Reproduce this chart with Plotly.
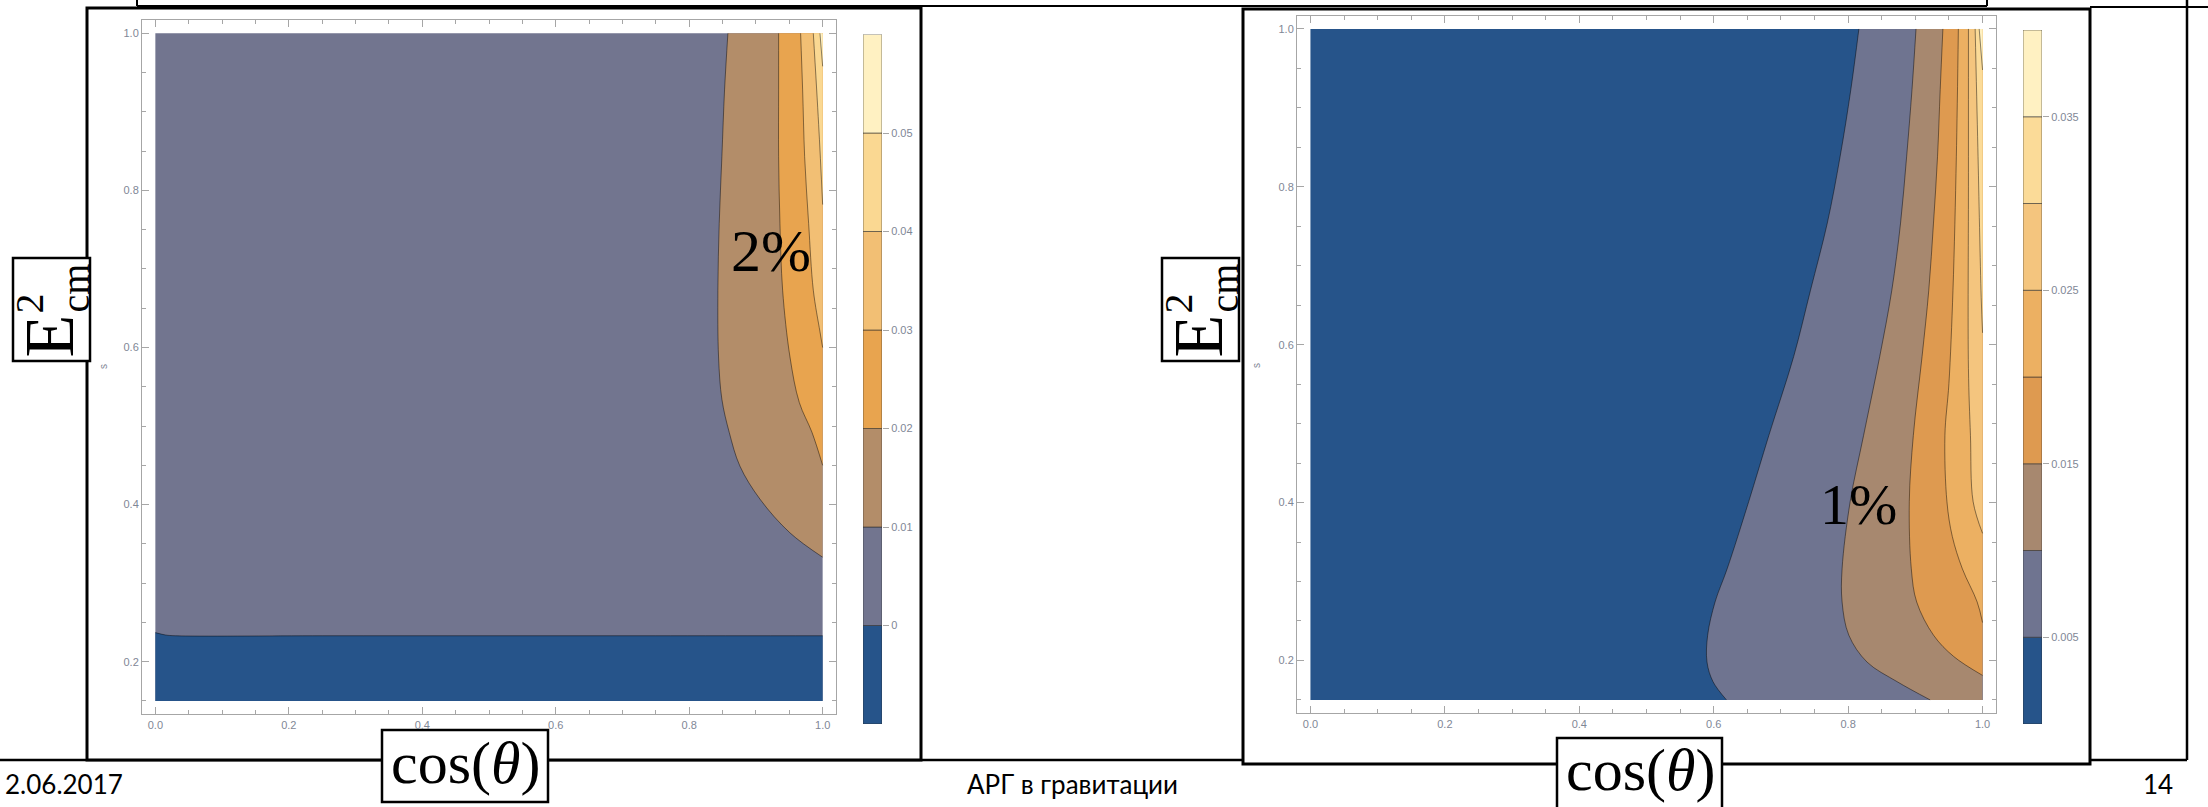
import plotly.graph_objects as go

W, H = 2208, 807

# ---------------- data ----------------
# Domain of both panels
C_MIN, C_MAX = 0.0, 1.0
S_MIN, S_MAX = 0.15, 1.0

# Left panel: contour levels, band colours and colour-bar ticks
L_LEVELS = [-0.01, 0.0, 0.01, 0.02, 0.03, 0.04, 0.05, 0.06]
L_COLORS = ['#26548A', '#72758F', '#B38D69', '#E8A44F', '#F2BF74', '#FAD892', '#FFF1C2']
L_TICKVALS = [0.0, 0.01, 0.02, 0.03, 0.04, 0.05]
L_TICKTEXT = ['0', '0.01', '0.02', '0.03', '0.04', '0.05']

# Left panel contour lines (cos θ, s)
L_C000_X = [0.0, 0.015, 0.03, 0.25, 0.5, 0.75, 1.0]
L_C000_Y = [0.237, 0.234, 0.233, 0.233, 0.233, 0.233, 0.233]
L_C010_X = [0.858, 0.853, 0.849, 0.845, 0.843, 0.844, 0.849, 0.860, 0.876, 0.906, 0.951, 1.0]
L_C010_Y = [1.0, 0.928, 0.843, 0.758, 0.673, 0.588, 0.534, 0.492, 0.449, 0.407, 0.364, 0.333]
L_C020_X = [0.934, 0.934, 0.934, 0.936, 0.940, 0.951, 0.965, 0.984, 1.0]
L_C020_Y = [1.0, 0.928, 0.843, 0.758, 0.673, 0.588, 0.530, 0.492, 0.450]
L_C030_X = [0.967, 0.970, 0.973, 0.979, 0.986, 0.996, 1.0]
L_C030_Y = [1.0, 0.928, 0.843, 0.758, 0.673, 0.620, 0.600]
L_C040_X = [0.986, 0.994, 1.0]
L_C040_Y = [1.0, 0.884, 0.782]
L_C050_X = [0.996, 1.0]
L_C050_Y = [1.0, 0.958]

# Right panel: contour levels, band colours and colour-bar ticks
R_LEVELS = [0.0, 0.005, 0.01, 0.015, 0.02, 0.025, 0.03, 0.035, 0.04]
R_COLORS = ['#26548A', '#6F7490', '#A7886F', '#DE9A50', '#ECB062', '#F4C57E', '#FBDB98', '#FFF1C2']
R_TICKVALS = [0.005, 0.015, 0.025, 0.035]
R_TICKTEXT = ['0.005', '0.015', '0.025', '0.035']

# Right panel contour lines (cos θ, s)
R_C005_X = [0.816, 0.804, 0.788, 0.769, 0.744, 0.719, 0.682, 0.652, 0.620, 0.602, 0.591, 0.590, 0.599, 0.619]
R_C005_Y = [1.0, 0.923, 0.838, 0.754, 0.669, 0.585, 0.485, 0.401, 0.316, 0.274, 0.232, 0.198, 0.173, 0.150]
R_C010_X = [0.901, 0.895, 0.887, 0.878, 0.865, 0.847, 0.823, 0.803, 0.791, 0.791, 0.801, 0.828, 0.873, 0.922]
R_C010_Y = [1.0, 0.923, 0.838, 0.754, 0.669, 0.585, 0.485, 0.401, 0.316, 0.274, 0.232, 0.198, 0.173, 0.150]
R_C015_X = [0.941, 0.937, 0.933, 0.927, 0.920, 0.910, 0.897, 0.891, 0.894, 0.902, 0.927, 0.957, 1.0]
R_C015_Y = [1.0, 0.923, 0.838, 0.754, 0.669, 0.585, 0.485, 0.401, 0.316, 0.274, 0.232, 0.205, 0.181]
R_C020_X = [0.964, 0.961, 0.956, 0.950, 0.944, 0.947, 0.955, 0.970, 0.992, 1.0]
R_C020_Y = [1.0, 0.838, 0.669, 0.551, 0.485, 0.401, 0.357, 0.316, 0.274, 0.248]
R_C025_X = [0.979, 0.979, 0.979, 0.982, 0.986, 1.0]
R_C025_Y = [1.0, 0.800, 0.570, 0.485, 0.401, 0.361]
R_C030_X = [0.989, 0.993, 0.998, 1.0]
R_C030_Y = [1.0, 0.850, 0.660, 0.615]
R_C035_X = [0.995, 1.0]
R_C035_Y = [1.0, 0.948]

AXIS_TICKS = [0.0, 0.2, 0.4, 0.6, 0.8, 1.0]

# ---------------- helpers ----------------
def px(x):
    return x / W


def py(y):
    return 1 - y / H


LINE_COL = 'rgba(0,0,0,0.45)'
TICK_COL = '#a6a6a6'
LABEL_COL = '#7f8796'

fig = go.Figure()


def add_background(xa, ya, color):
    fig.add_trace(go.Scatter(
        x=[C_MIN, C_MAX, C_MAX, C_MIN, C_MIN], y=[S_MIN, S_MIN, S_MAX, S_MAX, S_MIN],
        mode='lines', fill='toself', fillcolor=color, line=dict(width=0),
        hoverinfo='skip', xaxis=xa, yaxis=ya))


def add_band(xa, ya, cx, cy, color, anchor_x, anchor_y):
    # invisible edge of the domain that the band is closed against
    fig.add_trace(go.Scatter(
        x=anchor_x, y=anchor_y, mode='lines', line=dict(width=0, color='rgba(0,0,0,0)'),
        hoverinfo='skip', xaxis=xa, yaxis=ya))
    fig.add_trace(go.Scatter(
        x=cx, y=cy, mode='lines', fill='tonextx', fillcolor=color,
        line=dict(color=LINE_COL, width=1, shape='spline', smoothing=1),
        hoverinfo='skip', xaxis=xa, yaxis=ya))


def right_band(xa, ya, cx, cy, color):
    add_band(xa, ya, cx, cy, color, [C_MAX, C_MAX], [S_MAX, cy[-1]])


# ---------------- left panel ----------------
add_background('x', 'y', L_COLORS[1])
add_band('x', 'y', L_C000_X, L_C000_Y, L_COLORS[0], [C_MIN, C_MAX], [S_MIN, S_MIN])
right_band('x', 'y', L_C010_X, L_C010_Y, L_COLORS[2])
right_band('x', 'y', L_C020_X, L_C020_Y, L_COLORS[3])
right_band('x', 'y', L_C030_X, L_C030_Y, L_COLORS[4])
right_band('x', 'y', L_C040_X, L_C040_Y, L_COLORS[5])
right_band('x', 'y', L_C050_X, L_C050_Y, L_COLORS[6])

# ---------------- right panel ----------------
add_background('x3', 'y3', R_COLORS[0])
right_band('x3', 'y3', R_C005_X, R_C005_Y, R_COLORS[1])
right_band('x3', 'y3', R_C010_X, R_C010_Y, R_COLORS[2])
right_band('x3', 'y3', R_C015_X, R_C015_Y, R_COLORS[3])
right_band('x3', 'y3', R_C020_X, R_C020_Y, R_COLORS[4])
right_band('x3', 'y3', R_C025_X, R_C025_Y, R_COLORS[5])
right_band('x3', 'y3', R_C030_X, R_C030_Y, R_COLORS[6])
right_band('x3', 'y3', R_C035_X, R_C035_Y, R_COLORS[7])


# ---------------- colour bars ----------------
def add_colorbar(levels, colors, xa, ya):
    lows = levels[:-1]
    heights = [hi - lo for lo, hi in zip(levels[:-1], levels[1:])]
    fig.add_trace(go.Bar(
        x=[0.5] * len(lows), y=heights, base=lows, width=1,
        marker=dict(color=colors, line=dict(color='rgba(40,40,40,0.55)', width=1)),
        hoverinfo='skip', xaxis=xa, yaxis=ya))


add_colorbar(L_LEVELS, L_COLORS, 'x2', 'y2')
add_colorbar(R_LEVELS, R_COLORS, 'x4', 'y4')

# ---------------- axes ----------------
tickfont = dict(family='Liberation Sans', size=11, color=LABEL_COL)


def frame_axis(domain, rng, anchor, is_x):
    ax = dict(
        domain=domain, range=rng, anchor=anchor,
        showline=True, linecolor=TICK_COL, linewidth=1, mirror='allticks',
        ticks='inside', ticklen=7, tickwidth=1, tickcolor=TICK_COL,
        tickvals=AXIS_TICKS if is_x else AXIS_TICKS[1:], tickformat='.1f',
        minor=dict(dtick=0.05, tick0=0, ticks='inside', ticklen=4, tickwidth=1,
                   tickcolor=TICK_COL, showgrid=False),
        showgrid=False, zeroline=False, tickfont=tickfont, fixedrange=True)
    return ax


def bar_axes(xdom, ydom, rng, xanchor, vals, text):
    xa = dict(domain=xdom, range=[0, 1], visible=False, fixedrange=True)
    ya = dict(domain=ydom, range=rng, anchor=xanchor, side='right',
              tickvals=vals, ticktext=text, ticks='outside', ticklen=6,
              tickwidth=1, tickcolor=TICK_COL, showline=False, showgrid=False,
              zeroline=False, tickfont=tickfont, fixedrange=True)
    return xa, ya


X_RANGE = [-0.02, 1.02]
Y_RANGE = [0.133, 1.017]

xa2, ya2 = bar_axes([px(863), px(882)], [py(724), py(34.5)], [L_LEVELS[0], L_LEVELS[-1]],
                    'x2', L_TICKVALS, L_TICKTEXT)
xa4, ya4 = bar_axes([px(2023), px(2042)], [py(724), py(30)], [R_LEVELS[0], R_LEVELS[-1]],
                    'x4', R_TICKVALS, R_TICKTEXT)


# ---------------- slide decoration ----------------
def rect(x0, y0, x1, y1, lw=3):
    return dict(type='rect', xref='paper', yref='paper', layer='below',
                x0=px(x0), x1=px(x1), y0=py(y1), y1=py(y0),
                line=dict(color='black', width=lw), fillcolor='white')


def seg(x0, y0, x1, y1, lw=2.5):
    return dict(type='line', xref='paper', yref='paper', layer='below',
                x0=px(x0), x1=px(x1), y0=py(y0), y1=py(y1),
                line=dict(color='black', width=lw))


shapes = [
    # content placeholder frame
    seg(-10, 760, 2187, 760), seg(2187, -10, 2187, 760), seg(2090, 7, 2215, 7, 2),
    # title placeholder frame
    seg(137, 6, 1987, 6, 2), seg(137, -10, 137, 6, 2), seg(1987, -10, 1987, 6, 2),
    # picture frames
    rect(87, 8, 921, 760), rect(1243, 9, 2090, 764),
    # axis label frames
    rect(13, 258, 90, 361, 2.5), rect(1162, 258, 1239, 361, 2.5),
    rect(382, 730, 548, 802, 2.5), rect(1557, 738, 1722, 809, 2.5),
]

serif = 'Liberation Serif'


def ann(x, y, text, size, family=serif, angle=0, color='black', xanchor='center'):
    return dict(x=px(x), y=py(y), xref='paper', yref='paper', text=text, showarrow=False,
                font=dict(family=family, size=size, color=color), textangle=angle,
                xanchor=xanchor, yanchor='middle')


annotations = [
    ann(771, 251, '2%', 60),
    ann(1858, 504, '1%', 58),
    ann(465, 763, 'cos(<i>θ</i>)', 60),
    ann(1640, 770, 'cos(<i>θ</i>)', 60),
    ann(104, 367, 's', 10, 'Liberation Sans', -90, LABEL_COL),
    ann(1256, 366, 's', 10, 'Liberation Sans', -90, LABEL_COL),
    ann(3, 784, '2.06.2017', 26, 'Lato', 0, 'black', 'left'),
    ann(1072, 784, 'АРГ в гравитации', 26, 'Lato'),
    ann(2158, 784, '14', 26, 'Lato'),
]
for dx in (0, 1149):
    annotations += [
        ann(48.5 + dx, 336, 'E', 70, angle=-90),
        ann(29 + dx, 303.5, '2', 40, angle=-90),
        ann(75 + dx, 288.5, 'cm', 40, angle=-90),
    ]

fig.update_layout(
    width=W, height=H, margin=dict(l=0, r=0, t=0, b=0),
    paper_bgcolor='white', plot_bgcolor='rgba(0,0,0,0)', showlegend=False,
    xaxis=frame_axis([px(142), px(836)], X_RANGE, 'y', True),
    yaxis=frame_axis([py(714.3), py(20)], Y_RANGE, 'x', False),
    xaxis3=frame_axis([px(1297), px(1996)], X_RANGE, 'y3', True),
    yaxis3=frame_axis([py(713.3), py(15.5)], Y_RANGE, 'x3', False),
    xaxis2=xa2, yaxis2=ya2, xaxis4=xa4, yaxis4=ya4,
    shapes=shapes, annotations=annotations,
)

fig.write_html('out.html')
